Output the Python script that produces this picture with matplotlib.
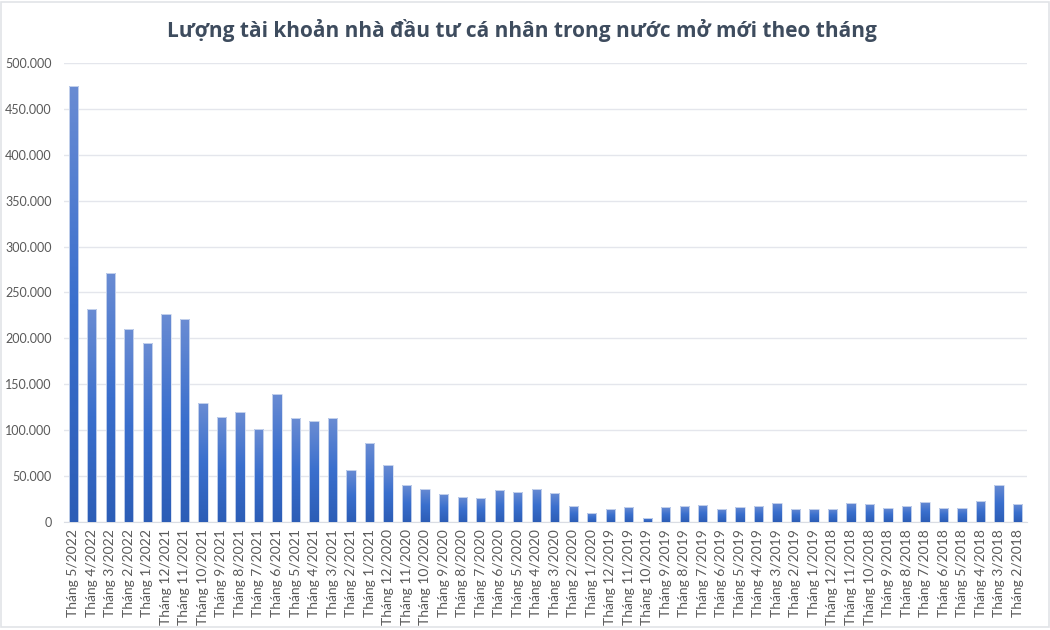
import numpy as np
import matplotlib
matplotlib.use('Agg')
import matplotlib.pyplot as plt
from matplotlib.colors import LinearSegmentedColormap
from matplotlib.patches import Rectangle
from matplotlib.ticker import FuncFormatter

plt.rcParams['font.family'] = ['Lato', 'Open Sans', 'DejaVu Sans']

title = 'Lượng tài khoản nhà đầu tư cá nhân trong nước mở mới theo tháng'

months = ['5/2022', '4/2022', '3/2022', '2/2022', '1/2022',
          '12/2021', '11/2021', '10/2021', '9/2021', '8/2021', '7/2021', '6/2021',
          '5/2021', '4/2021', '3/2021', '2/2021', '1/2021',
          '12/2020', '11/2020', '10/2020', '9/2020', '8/2020', '7/2020', '6/2020',
          '5/2020', '4/2020', '3/2020', '2/2020', '1/2020',
          '12/2019', '11/2019', '10/2019', '9/2019', '8/2019', '7/2019', '6/2019',
          '5/2019', '4/2019', '3/2019', '2/2019', '1/2019',
          '12/2018', '11/2018', '10/2018', '9/2018', '8/2018', '7/2018', '6/2018',
          '5/2018', '4/2018', '3/2018', '2/2018']
labels = ['Tháng ' + m for m in months]

accounts = [475000, 231500, 271000, 210600, 194600,
            226600, 220800, 129300, 114700, 120200, 101000, 139800,
            113600, 109700, 113300, 56600, 85700,
            62800, 41000, 36000, 31200, 28000, 26900, 34900,
            33400, 36700, 32000, 18200, 9800,
            14900, 16300, 5100, 16300, 17400, 18500, 14200,
            17000, 17400, 21400, 14200, 14900,
            14900, 21400, 20300, 15600, 18200, 21800, 15600,
            15600, 23200, 40300, 19600]

fig = plt.figure(figsize=(10.5, 6.3), dpi=100)
ax = fig.add_axes([0.061, 0.171, 0.917, 0.7295])

x = np.arange(len(accounts))
bars = ax.bar(x, accounts, width=0.5, color='none', edgecolor='#D3DDF0',
              linewidth=0.6, zorder=4)

# gradient fill, light at top, darker at the base
cmap = LinearSegmentedColormap.from_list('bar', ['#2C5DB6', '#3A6FCD', '#6A8CD3'])
grad = np.linspace(0, 1, 256).reshape(-1, 1)
for b in bars:
    x0 = b.get_x()
    im = ax.imshow(grad, extent=[x0, x0 + b.get_width(), 0, b.get_height()],
                   origin='lower', cmap=cmap, aspect='auto', zorder=3)
    im.set_clip_path(b)

ax.set_xlim(-0.5, len(accounts) - 0.5)
ax.set_ylim(0, 500000)
ax.set_yticks(np.arange(0, 500001, 50000))
ax.yaxis.set_major_formatter(FuncFormatter(lambda v, p: f'{int(v):,}'.replace(',', '.')))
ax.set_xticks(x)
ax.set_xticklabels(labels, rotation=90)
ax.tick_params(axis='both', length=0, colors='#595959', labelsize=10)
ax.tick_params(axis='y', labelsize=9, pad=9)
ax.tick_params(axis='x', pad=5)

ax.grid(axis='y', color='#E4E6EC', linewidth=1)
ax.set_axisbelow(True)
for s in ['top', 'right', 'left']:
    ax.spines[s].set_visible(False)
ax.spines['bottom'].set_color('#DADDE4')

fig.text(0.497, 0.952, title, ha='center', va='center', fontsize=15,
         fontweight='bold', color='#3E4C5E', family=['Open Sans', 'DejaVu Sans'])

fig.patches.append(Rectangle((0.001, 0.004), 0.998, 0.993, transform=fig.transFigure,
                             fill=False, edgecolor='#E2E4E8', linewidth=1.2))

fig.savefig('out.png', dpi=100)
